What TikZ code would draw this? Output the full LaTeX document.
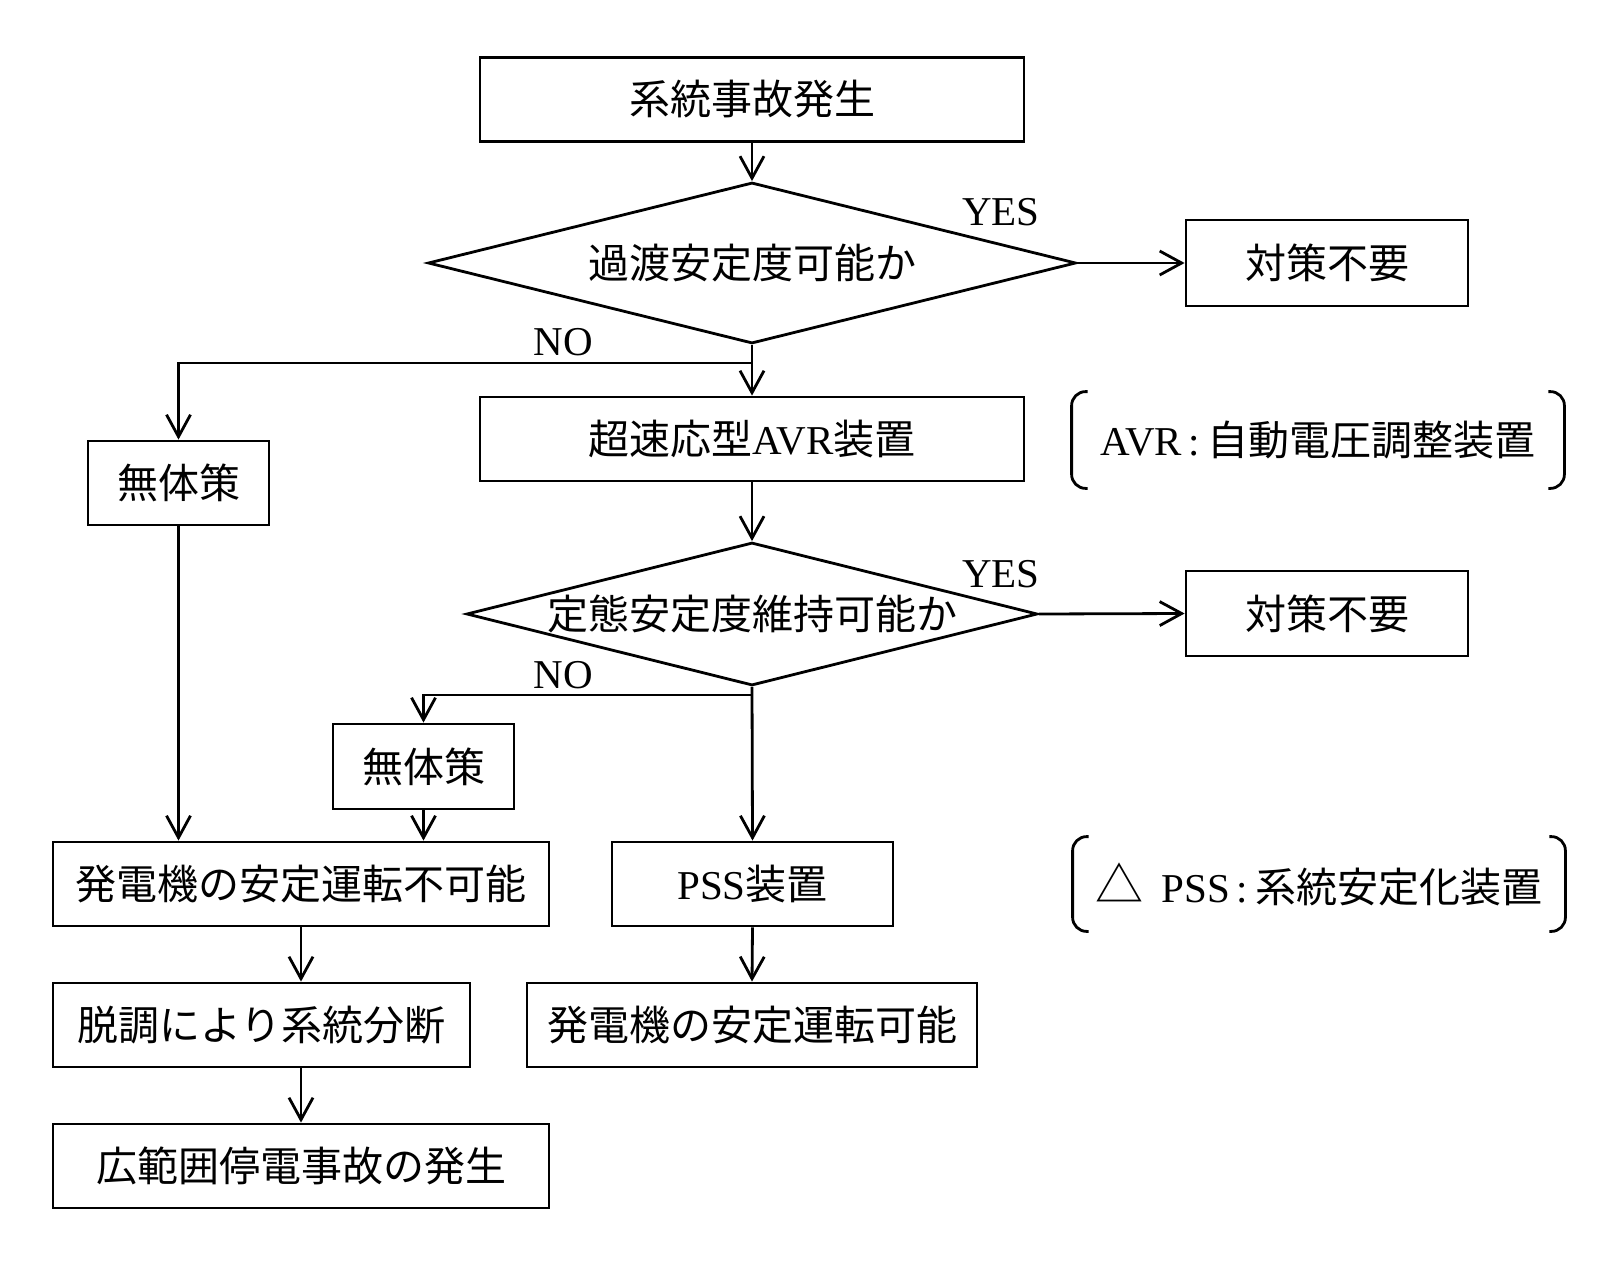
\documentclass[tikz,border=0pt]{standalone}
\usepackage{fontspec}
\setmainfont{Liberation Serif}
\newfontfamily\jp{Noto Sans CJK JP}
\usetikzlibrary{arrows.meta, shapes.geometric, positioning}

\begin{document}
\begin{tikzpicture}[
        x=0.5pt, y=-0.5pt,
        line width=1.4pt,
        font=\fontsize{20.5}{24}\selectfont,
        box/.style={rectangle, draw=black, minimum height=42pt, inner sep=0pt, align=center},
        decision/.style={diamond, draw=black, inner sep=0pt, aspect=4},
        lbl/.style={inner sep=0pt},
        note/.style={minimum width=245pt, minimum height=47pt, inner sep=0pt},
        paren/.style={rounded corners=7pt},
        arrow/.style={-{Straight Barb[length=11pt, width=12pt]}}
    ]
    \useasboundingbox (0,0) rectangle (1620,1262);

    % 上段：事故発生と過渡安定度
    \node[box, minimum width=272pt] (start) at (752,99.5) {\jp 系統事故発生};
    \node[decision, minimum width=324pt, minimum height=80.5pt] (dec1) at (752,263) {\jp 過渡安定度可能か};
    \node[box, minimum width=141pt, minimum height=43pt] (ok1) at (1327,263) {\jp 対策不要};
    \node[lbl] (yes1) at (1001,212) {YES};
    \node[lbl] (no1) at (563,342) {NO};
    \coordinate (j1) at (752,363);

    % 中段：AVRと定態安定度
    \node[box, minimum width=90.5pt] (none1) at (178.5,483) {\jp 無体策};
    \node[box, minimum width=272pt] (avr) at (752,439) {{\jp 超速応型}AVR{\jp 装置}};
    \node[note] (note1) at (1318,440) {AVR\,:\,{\jp 自動電圧調整装置}\hspace{4pt}};
    \node[decision, minimum width=285.5pt, minimum height=71.5pt] (dec2) at (752,614) {\jp 定態安定度維持可能か};
    \node[box, minimum width=141pt, minimum height=42.5pt] (ok2) at (1327,613.5) {\jp 対策不要};
    \node[lbl] (yes2) at (1001,574) {YES};
    \node[lbl] (no2) at (563,675) {NO};
    \coordinate (j2) at (752,695);

    % 下段：結果
    \node[box, minimum width=90.5pt, minimum height=42.5pt] (none2) at (423.5,766.5) {\jp 無体策};
    \node[box, minimum width=248pt] (fail) at (301,884) {\jp 発電機の安定運転不可能};
    \node[box, minimum width=140.5pt] (pss) at (752.5,884) {PSS{\jp 装置}};
    \node[note, minimum height=46pt] (note2) at (1319,884) {{\jp\fontsize{24}{24}\selectfont △}\hspace{9pt}PSS\,:\,{\jp 系統安定化装置}};
    \node[box, minimum width=208.5pt] (split) at (261.5,1025) {\jp 脱調により系統分断};
    \node[box, minimum width=225pt] (ok3) at (752,1025) {\jp 発電機の安定運転可能};
    \node[box, minimum width=248pt] (blackout) at (301,1166) {\jp 広範囲停電事故の発生};

    % 矢印
    \draw[arrow] (start.south) -- (dec1.north);
    \draw[arrow] (dec1.east) -- (ok1.west);
    \draw[arrow] (dec1.south) -- (avr.north);
    \draw[arrow] (j1) -| (none1.north);
    \draw[arrow] (avr.south) -- (dec2.north);
    \draw[arrow] (dec2.east) -- (ok2.west);
    \draw[arrow] (dec2.south) -- (pss.north);
    \draw[arrow] (j2) -| (none2.north);
    \draw[arrow] (none1.south) -- (none1.south |- fail.north);
    \draw[arrow] (none2.south) -- (none2.south |- fail.north);
    \draw[arrow] (fail.south) -- (fail.south |- split.north);
    \draw[arrow] (fail.south |- split.south) -- (blackout.north);
    \draw[arrow] (pss.south) -- (ok3.north);

    % 注記の括弧
    \foreach \n in {note1, note2} {
        \draw[paren] ([xshift=8pt]\n.north west) -- (\n.north west) -- (\n.south west) -- ([xshift=8pt]\n.south west);
        \draw[paren] ([xshift=-8pt]\n.north east) -- (\n.north east) -- (\n.south east) -- ([xshift=-8pt]\n.south east);
    }

\end{tikzpicture}
\end{document}
